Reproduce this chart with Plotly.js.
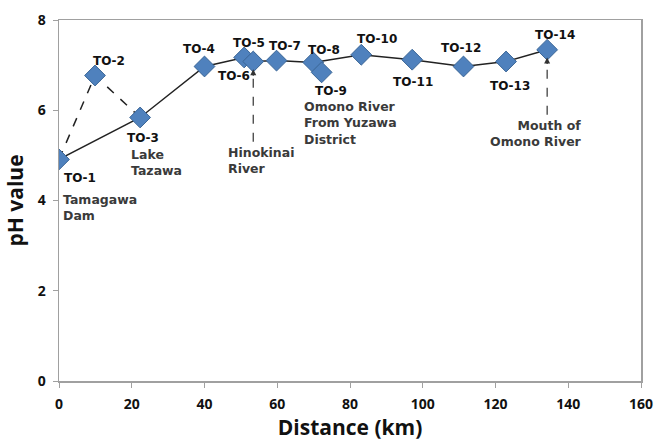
<!DOCTYPE html>
<html>
<head>
<meta charset="utf-8">
<script src="https://cdn.plot.ly/plotly-3.0.1.min.js"></script>
<style>
html,body{margin:0;padding:0;background:#fff;}
#chart{width:669px;height:444px;}
</style>
</head>
<body>
<div id="chart"></div>
<script>
// ---- data ----
var siteNames = ["TO-1","TO-2","TO-3","TO-4","TO-5","TO-6","TO-7","TO-8","TO-9","TO-10","TO-11","TO-12","TO-13","TO-14"];
var distanceKm = [0, 9.9, 22.3, 40.0, 50.9, 53.4, 59.8, 69.9, 72.2, 83.1, 97.1, 111.2, 122.9, 134.2];
var phValue = [4.91, 6.77, 5.84, 6.97, 7.17, 7.08, 7.10, 7.06, 6.84, 7.23, 7.12, 6.97, 7.08, 7.34];
var mainPath = [0, 2, 3, 4, 5, 6, 7, 9, 10, 11, 12, 13];
var dashedPath = [0, 1, 2];
var xTicks = [0, 20, 40, 60, 80, 100, 120, 140, 160];
var yTicks = [0, 2, 4, 6, 8];
// site label offsets (px) relative to marker
var labelDx = [21, 14, 3, -6, 5, -19, 8, 11, 9, 16, 1, -2, 4, 8];
var labelDy = [-19, 15, -21, 17, 14, -14, 15, 12, -19, 16, -22, 18, -24, 15];
// descriptive notes
var notes = [
  {site: 0, text: "Tamagawa<br>Dam", dx: 2, dy: -48, anchor: "left"},
  {site: 2, text: "Lake<br>Tazawa", dx: -11, dy: -45, anchor: "left"},
  {site: 8, text: "Omono River<br>From Yuzawa<br>District", dx: -20, dy: -51, anchor: "left"},
  {site: 5, text: "Hinokinai<br>River", dx: -27, dy: -99, anchor: "left"},
  {site: 13, text: "Mouth of<br>Omono River", dx: 37, dy: -84, anchor: "right"}
];
var arrowSites = [5, 13];
var arrowBottom = [5.3, 5.9];

function pick(arr, idx){ return idx.map(function(i){ return arr[i]; }); }

var traces = [
  {x: pick(distanceKm, dashedPath), y: pick(phValue, dashedPath), mode: "lines",
   line: {color: "#222", width: 1.5, dash: "dash"}, hoverinfo: "skip", showlegend: false},
  {x: pick(distanceKm, mainPath), y: pick(phValue, mainPath), mode: "lines",
   line: {color: "#222", width: 1.5}, hoverinfo: "skip", showlegend: false},
  {x: distanceKm, y: phValue, mode: "markers", text: siteNames,
   marker: {symbol: "diamond", size: 16, color: "#4F81BD", line: {color: "#3B6696", width: 1}},
   showlegend: false}
];

var annotations = [];
siteNames.forEach(function(n, i){
  annotations.push({x: distanceKm[i], y: phValue[i], xref: "x", yref: "y", text: n,
    showarrow: false, xshift: labelDx[i], yshift: labelDy[i],
    font: {family: "DejaVu Sans", size: 12, color: "#111", weight: "bold"}});
});
notes.forEach(function(o){
  annotations.push({x: distanceKm[o.site], y: phValue[o.site], xref: "x", yref: "y",
    text: o.text, showarrow: false, xshift: o.dx, yshift: o.dy,
    xanchor: o.anchor, yanchor: "middle", align: o.anchor,
    font: {family: "DejaVu Sans", size: 12.5, color: "#3a3a3a", weight: "bold"}});
});
var shapes = [];
arrowSites.forEach(function(s, k){
  shapes.push({type: "line", xref: "x", yref: "y", x0: distanceKm[s], x1: distanceKm[s],
    y0: arrowBottom[k], y1: phValue[s] - 0.2, line: {color: "#333", width: 1.2, dash: "dash"}});
  annotations.push({x: distanceKm[s], y: phValue[s] - 0.17, xref: "x", yref: "y", text: "",
    showarrow: true, arrowhead: 2, arrowsize: 1, arrowwidth: 1.2, arrowcolor: "#333",
    ax: 0, ay: 8});
});

var layout = {
  width: 669, height: 444,
  margin: {l: 59, r: 28, t: 20, b: 63},
  paper_bgcolor: "#fff", plot_bgcolor: "#fff",
  xaxis: {range: [0, 160], tickvals: xTicks, ticktext: xTicks.map(String),
    showgrid: false, zeroline: false, showline: true, linecolor: "#a0a0a0", linewidth: 1.5,
    mirror: true, ticks: "outside", ticklen: 5, tickcolor: "#a0a0a0", ticklabelstandoff: 5,
    tickfont: {family: "Open Sans", size: 14, color: "#111", weight: "bold"},
    title: {text: "Distance (km)", font: {family: "Open Sans", size: 21, color: "#111", weight: "bold"}, standoff: 6}},
  yaxis: {range: [0, 8], tickvals: yTicks, ticktext: yTicks.map(String),
    showgrid: false, zeroline: false, showline: true, linecolor: "#a0a0a0", linewidth: 1.5,
    mirror: true, ticks: "outside", ticklen: 5, tickcolor: "#a0a0a0", ticklabelstandoff: 4,
    tickfont: {family: "Open Sans", size: 14, color: "#111", weight: "bold"},
    title: {text: "pH value", font: {family: "Open Sans", size: 21, color: "#111", weight: "bold"}, standoff: 8}},
  annotations: annotations,
  shapes: shapes
};

Plotly.newPlot("chart", traces, layout, {displayModeBar: false, staticPlot: true});
</script>
</body>
</html>
